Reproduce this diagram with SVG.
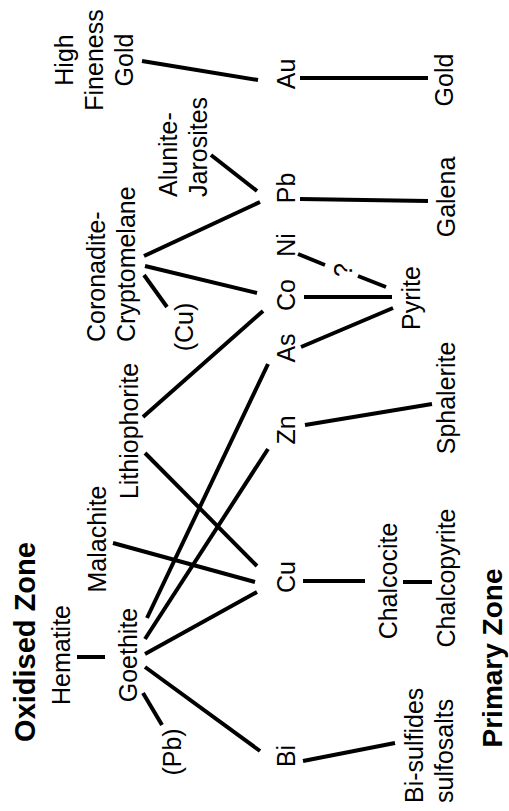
<svg xmlns="http://www.w3.org/2000/svg" width="509" height="811" viewBox="0 0 509 811">
<style>
text{font-family:"Liberation Sans",Arial,sans-serif;font-size:25px;fill:#000}
.m{text-anchor:middle}
.s{text-anchor:start}
.b{font-weight:bold;font-size:29px}
.p{font-size:28px}
#connectors line{stroke:#000;stroke-width:4;stroke-linecap:butt}
</style>
<rect width="509" height="811" fill="#fff"/>
<g id="connectors">
<line x1="142" y1="61" x2="258" y2="80"/>
<line x1="300" y1="78" x2="428" y2="78"/>
<line x1="211" y1="155" x2="257" y2="191"/>
<line x1="144" y1="256" x2="260" y2="202"/>
<line x1="300" y1="199" x2="428" y2="201"/>
<line x1="145" y1="266" x2="257" y2="293"/>
<line x1="144" y1="275" x2="167" y2="307"/>
<line x1="298" y1="254" x2="325" y2="265"/>
<line x1="358" y1="276" x2="386" y2="287"/>
<line x1="304" y1="297" x2="392" y2="297"/>
<line x1="301" y1="347" x2="393" y2="308"/>
<line x1="143" y1="417" x2="263" y2="311"/>
<line x1="305" y1="425" x2="432" y2="404"/>
<line x1="268" y1="364" x2="147" y2="618"/>
<line x1="268" y1="449" x2="145" y2="639"/>
<line x1="145" y1="453" x2="257" y2="566"/>
<line x1="113" y1="543" x2="255" y2="582"/>
<line x1="145" y1="654" x2="257" y2="592"/>
<line x1="303" y1="581" x2="365" y2="581"/>
<line x1="403" y1="582" x2="432" y2="582"/>
<line x1="77" y1="657" x2="105" y2="657"/>
<line x1="145" y1="667" x2="260" y2="751"/>
<line x1="143" y1="693" x2="162" y2="725"/>
<line x1="303" y1="761" x2="395" y2="743"/>
</g>
<g id="q"><text class="m" transform="translate(352,270) rotate(-90)">?</text></g>
<g id="zone-oxidised"><text class="m b" transform="translate(35,642) rotate(-90)">Oxidised Zone</text></g>
<g id="zone-primary"><text class="m b p" transform="translate(502,658) rotate(-90)">Primary Zone</text></g>
<g id="high-fineness-gold">
<text class="m" transform="translate(73,60) rotate(-90)">High</text>
<text class="m" transform="translate(103,60) rotate(-90)">Fineness</text>
<text class="m" transform="translate(133,60) rotate(-90)">Gold</text>
</g>
<g id="alunite-jarosites">
<text class="s" transform="translate(177,197) rotate(-90)">Alunite-</text>
<text class="s" transform="translate(207,197) rotate(-90)">Jarosites</text>
</g>
<g id="coronadite-cryptomelane">
<text class="s" transform="translate(105,342) rotate(-90)">Coronadite-</text>
<text class="s" transform="translate(135,342) rotate(-90)">Cryptomelane</text>
</g>
<g id="cu-paren"><text class="m" transform="translate(193,327) rotate(-90)">(Cu)</text></g>
<g id="lithiophorite"><text class="m" transform="translate(138,431) rotate(-90)">Lithiophorite</text></g>
<g id="malachite"><text class="m" transform="translate(106,539) rotate(-90)">Malachite</text></g>
<g id="hematite"><text class="m" transform="translate(70,655) rotate(-90)">Hematite</text></g>
<g id="goethite"><text class="m" transform="translate(137,655) rotate(-90)">Goethite</text></g>
<g id="pb-paren"><text class="m" transform="translate(181,752) rotate(-90)">(Pb)</text></g>
<g id="au"><text class="m" transform="translate(295,74) rotate(-90)">Au</text></g>
<g id="pb"><text class="m" transform="translate(295,188) rotate(-90)">Pb</text></g>
<g id="ni"><text class="m" transform="translate(295,245) rotate(-90)">Ni</text></g>
<g id="co"><text class="m" transform="translate(295,295) rotate(-90)">Co</text></g>
<g id="as"><text class="m" transform="translate(295,348) rotate(-90)">As</text></g>
<g id="zn"><text class="m" transform="translate(295,430) rotate(-90)">Zn</text></g>
<g id="cu"><text class="m" transform="translate(295,577) rotate(-90)">Cu</text></g>
<g id="bi"><text class="m" transform="translate(295,756) rotate(-90)">Bi</text></g>
<g id="gold"><text class="m" transform="translate(453,80) rotate(-90)">Gold</text></g>
<g id="galena"><text class="m" transform="translate(455,197) rotate(-90)">Galena</text></g>
<g id="pyrite"><text class="m" transform="translate(420,298) rotate(-90)">Pyrite</text></g>
<g id="sphalerite"><text class="m" transform="translate(455,398) rotate(-90)">Sphalerite</text></g>
<g id="chalcocite"><text class="m" transform="translate(397,581) rotate(-90)">Chalcocite</text></g>
<g id="chalcopyrite"><text class="m" transform="translate(455,578) rotate(-90)">Chalcopyrite</text></g>
<g id="bi-sulfides">
<text class="s" transform="translate(423,803) rotate(-90)">Bi-sulfides</text>
<text class="s" transform="translate(453,803) rotate(-90)">sulfosalts</text>
</g>
</svg>
